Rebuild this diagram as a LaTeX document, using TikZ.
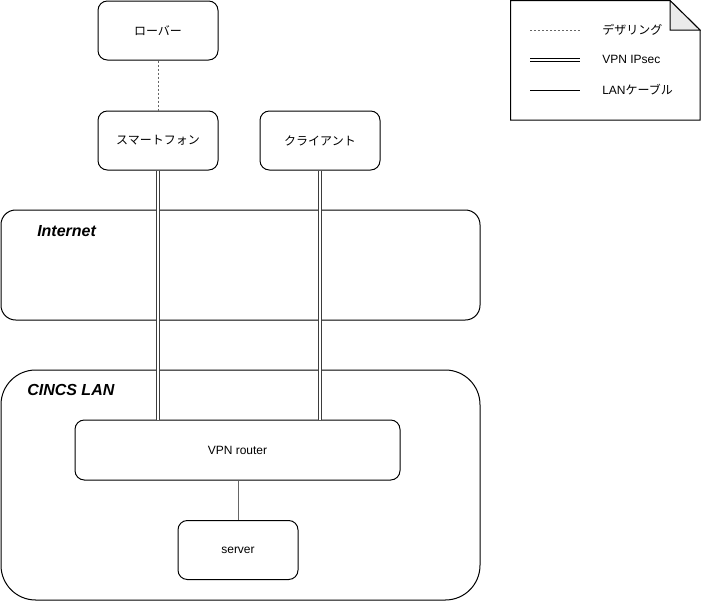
\documentclass[tikz,border=0pt]{standalone}
\usepackage{fontspec}
\setmainfont{Liberation Sans}
\newfontfamily\jpfont{Noto Sans CJK JP}
\usetikzlibrary{positioning}
\definecolor{netGray}{HTML}{666666}
\definecolor{noteFold}{HTML}{EBEBEB}

\begin{document}
\begin{tikzpicture}[x=0.75pt,y=-0.75pt,font=\fontsize{9}{11}\selectfont,
    dev/.style={draw,line width=0.75pt,rounded corners=7pt,fill=white,
                minimum width=90pt,minimum height=44.25pt,inner sep=0pt},
    zone/.style={draw,line width=0.75pt,inner sep=0pt,minimum width=359.25pt},
    zonelabel/.style={font=\fontsize{12}{14}\selectfont\bfseries\itshape,
                      anchor=west,inner sep=0pt},
    keylabel/.style={anchor=west,inner sep=0pt},
    tether/.style={draw=netGray,line width=0.75pt,dash pattern=on 1.5pt off 1.5pt},
    ipsec/.style={draw=netGray!60!black,line width=0.75pt,double,double distance=1.5pt},
    lan/.style={draw=netGray,line width=0.75pt},
    lankey/.style={draw=black,line width=0.75pt}]
  \useasboundingbox (0,0) rectangle (701,601);
  \node[zone,rounded corners=11pt,minimum height=82.5pt] (inet) at (240.5,265) {};
  \node[zone,rounded corners=26pt,minimum height=172.5pt] (cincs) at (240.5,485) {};
  \node[zonelabel] (inetlabel) at (37,231) {Internet};
  \node[zonelabel] (cincslabel) at (27,390) {CINCS LAN};
  \node[dev] (rover) at (158,30.5) {\jpfont ローバー};
  \node[dev] (phone) at (158,140.5) {\jpfont スマートフォン};
  \node[dev] (client) at (320,140.5) {\jpfont クライアント};
  \node[dev,minimum width=243.75pt,minimum height=45pt] (router) at (237.5,450) {VPN router};
  \node[dev] (server) at (238,550) {server};
  \draw[tether] (rover) -- (phone);
  \draw[ipsec] (phone.south) -- (phone.south |- router.north);
  \draw[ipsec] (client.south) -- (client.south |- router.north);
  \draw[lan] (server.north |- router.south) -- (server.north);
  \draw[line width=0.75pt] (510.5,0.5) -- (670,0.5) -- (700,30) -- (700,120)
    -- (510.5,120) -- cycle;
  \draw[line width=0.75pt,fill=noteFold] (670,0.5) -- (670,30) -- (700,30) -- cycle;
  \coordinate (k1a) at (530,30);  \coordinate (k1b) at (580,30);
  \coordinate (k2a) at (530,59.5); \coordinate (k2b) at (580,59.5);
  \coordinate (k3a) at (530,90);  \coordinate (k3b) at (580,90);
  \draw[tether] (k1a) -- (k1b);
  \draw[lankey,double,double distance=1.5pt] (k2a) -- (k2b);
  \draw[lankey] (k3a) -- (k3b);
  \node[keylabel] (k1t) at (602,30) {\jpfont デザリング};
  \node[keylabel] (k2t) at (602,59.5) {VPN IPsec};
  \node[keylabel] (k3t) at (602,89.5) {LAN{\jpfont ケーブル}};
\end{tikzpicture}
\end{document}
